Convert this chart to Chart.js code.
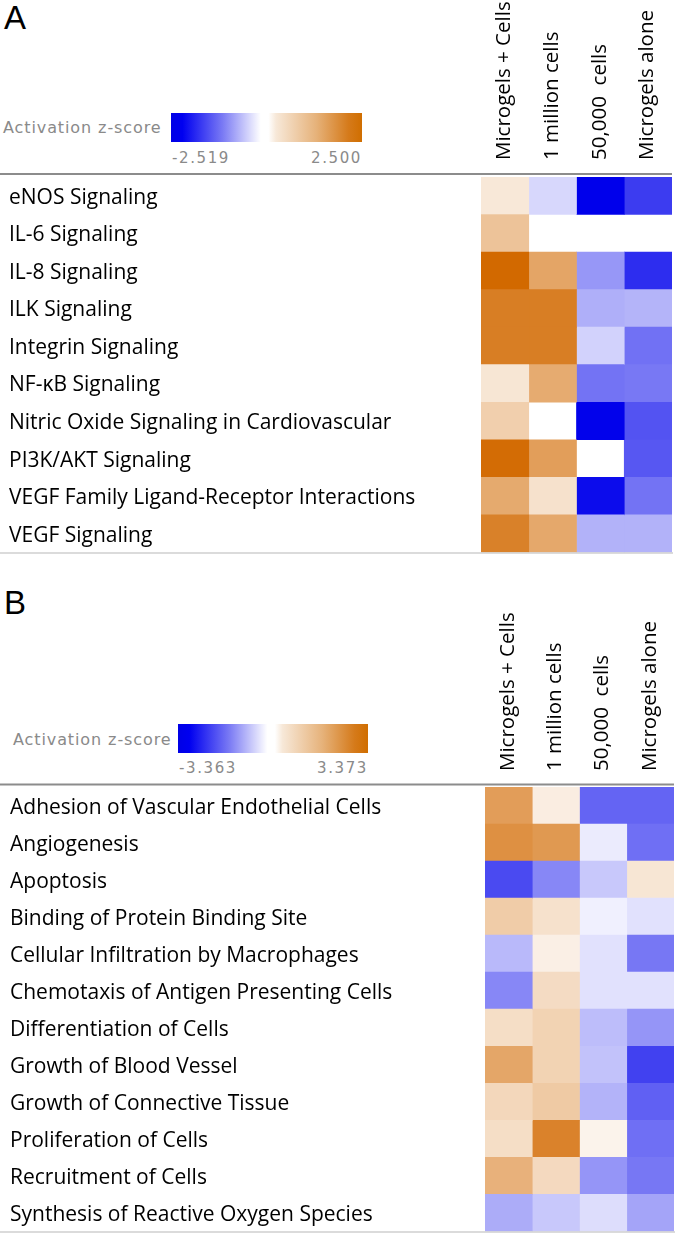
<!DOCTYPE html>
<html>
<head>
<meta charset="utf-8">
<script src="https://cdn.jsdelivr.net/npm/chart.js@4.4.1/dist/chart.umd.min.js"></script>
<style>
  body { margin: 0; width: 677px; height: 1244px; background: #fff; position: relative; overflow: hidden; }
  .letter { position: absolute; left: 4px; font: 33px "Liberation Sans", sans-serif; line-height: 33px; color: #000; }
  .ztitle { position: absolute; font: 16px "DejaVu Sans", sans-serif; letter-spacing: 0.9px; color: #8a8a8a; line-height: 18px; }
  .zbar { position: absolute; height: 29px;
    background: linear-gradient(to right, #0000e6 0%, #0000f0 6%, #7a7af4 27%, #ffffff 47%, #ffffff 51%, #f7e8d8 55%, #e6b27a 76%, #d57a1a 93%, #d06e00 100%); }
  .zlab { position: absolute; font: 15px "DejaVu Sans", sans-serif; letter-spacing: 1.6px; color: #8a8a8a; line-height: 18px; }
  canvas { position: absolute; left: 0; }
</style>
</head>
<body>

<div class="letter" style="top:1px">A</div>
<div class="ztitle" style="left:3px; top:119px">Activation z-score</div>
<div class="zbar" style="left:171px; top:113px; width:191px"></div>
<div class="zlab" style="left:172px; top:149px">-2.519</div>
<div class="zlab" style="left:300px; top:149px; width:62px; text-align:right">2.500</div>
<canvas id="chartA" width="677" height="565" style="top:0"></canvas>

<div class="letter" style="top:586px">B</div>
<div class="ztitle" style="left:13px; top:731px">Activation z-score</div>
<div class="zbar" style="left:178px; top:724px; width:190px"></div>
<div class="zlab" style="left:179px; top:759px">-3.363</div>
<div class="zlab" style="left:306px; top:759px; width:62px; text-align:right">3.373</div>
<canvas id="chartB" width="677" height="664" style="top:580px"></canvas>

<script>
const columns = ["Microgels + Cells", "1 million cells", "50,000  cells", "Microgels alone"];

// PANEL A - canonical pathways
const pathwaysA = [
  "eNOS Signaling",
  "IL-6 Signaling",
  "IL-8 Signaling",
  "ILK Signaling",
  "Integrin Signaling",
  "NF-κB Signaling",
  "Nitric Oxide Signaling in Cardiovascular",
  "PI3K/AKT Signaling",
  "VEGF Family Ligand-Receptor Interactions",
  "VEGF Signaling"
];
const zA_microgelsCells = [0.38, 1.0, 2.5, 2.15, 2.15, 0.42, 0.8, 2.45, 1.42, 2.1];
const zA_millionCells   = [-0.4, null, 1.5, 2.15, 2.15, 1.4, null, 1.62, 0.5, 1.45];
const zA_50kCells       = [-2.519, null, -1.03, -0.79, -0.44, -1.38, -2.5, null, -2.4, -0.76];
const zA_microgelsAlone = [-1.93, null, -2.07, -0.74, -1.4, -1.33, -1.7, -1.66, -1.38, -0.76];
const zA_min = -2.519, zA_max = 2.5;

// PANEL B - diseases and functions
const functionsB = [
  "Adhesion of Vascular Endothelial Cells",
  "Angiogenesis",
  "Apoptosis",
  "Binding of Protein Binding Site",
  "Cellular Infiltration by Macrophages",
  "Chemotaxis of Antigen Presenting Cells",
  "Differentiation of Cells",
  "Growth of Blood Vessel",
  "Growth of Connective Tissue",
  "Proliferation of Cells",
  "Recruitment of Cells",
  "Synthesis of Reactive Oxygen Species"
];
const zB_microgelsCells = [2.2, 2.5, -2.39, 1.15, -0.92, -1.58, 0.75, 2.0, 0.9, 0.75, 1.75, -1.1];
const zB_millionCells   = [0.4, 2.3, -1.58, 0.67, 0.35, 0.8, 1.0, 1.0, 1.2, 2.8, 0.85, -0.73];
const zB_50kCells       = [-2.05, -0.26, -0.73, -0.2, -0.4, -0.4, -0.87, -0.8, -1.0, 0.27, -1.4, -0.45];
const zB_microgelsAlone = [-2.05, -1.9, 0.57, -0.4, -1.8, -0.4, -1.4, -2.5, -2.1, -1.9, -1.8, -1.2];
const zB_min = -3.363, zB_max = 3.373;

function ZColor(z, zMin, zMax) {
  if (z === null) return "#ffffff";
  let t;
  if (z >= 0) {
    t = Math.min(z / zMax, 1);
    return `rgb(${255 - 45 * t}, ${255 - 150 * t}, ${255 - 255 * t})`;
  }
  t = Math.min(z / zMin, 1);
  return `rgb(${255 - 255 * t}, ${255 - 255 * t}, ${255 - 20 * t})`;
}

// rules above and below the grid
const rulesPlugin = {
  id: "rules",
  afterDraw(chart, args, opts) {
    const { ctx, chartArea } = chart;
    ctx.save();
    ctx.strokeStyle = "#8c8c8c";
    ctx.lineWidth = 2;
    ctx.beginPath();
    ctx.moveTo(0, chartArea.top - opts.topGap);
    ctx.lineTo(chartArea.right, chartArea.top - opts.topGap);
    ctx.stroke();
    ctx.strokeStyle = "#cfcfcf";
    ctx.lineWidth = 1.5;
    ctx.beginPath();
    ctx.moveTo(0, chartArea.bottom + 0.5);
    ctx.lineTo(chartArea.right + 1, chartArea.bottom + 0.5);
    ctx.stroke();
    ctx.restore();
  }
};

function Heatmap(canvasId, rows, series, zMin, zMax, layout) {
  const datasets = series.map((values, col) => ({
    data: values.map(v => (v === null ? null : [col, col + 1])),
    backgroundColor: ctx => ZColor(values[ctx.dataIndex], zMin, zMax),
    borderWidth: 0,
    barPercentage: 1,
    categoryPercentage: 1,
    grouped: false
  }));

  return new Chart(document.getElementById(canvasId), {
    type: "bar",
    data: { labels: rows, datasets },
    options: {
      indexAxis: "y",
      responsive: false,
      animation: false,
      events: [],
      layout: { padding: { left: layout.left, right: layout.right, top: 0, bottom: layout.bottom } },
      plugins: {
        legend: { display: false },
        tooltip: { enabled: false },
        rules: { topGap: layout.topGap }
      },
      scales: {
        x: { type: "linear", min: 0, max: 4, display: false },
        xTop: {
          type: "category",
          labels: columns,
          position: "top",
          offset: true,
          grid: { display: false, drawTicks: false },
          border: { display: false },
          ticks: {
            minRotation: 90, maxRotation: 90, autoSkip: false,
            padding: layout.headPad,
            labelOffset: 24,
            color: "#000",
            font: { family: "Open Sans", size: 20.5 }
          },
          afterFit: s => { s.height = layout.top; }
        },
        y: {
          type: "category",
          offset: true,
          grid: { display: false, drawTicks: false },
          border: { display: false },
          ticks: {
            crossAlign: "far",
            autoSkip: false,
            padding: 0,
            labelOffset: 2,
            color: "#000",
            font: { family: "Open Sans", size: 21 }
          },
          afterFit: s => { s.width = layout.gridLeft - layout.left; }
        }
      }
    },
    plugins: [rulesPlugin]
  });
}

document.fonts.load('21px "Open Sans"').then(() => {
  //PANEL A
  Heatmap("chartA", pathwaysA,
    [zA_microgelsCells, zA_millionCells, zA_50kCells, zA_microgelsAlone],
    zA_min, zA_max,
    { left: 9, gridLeft: 481, right: 5, bottom: 6, top: 177, topGap: 3, headPad: 17 });

  //PANEL B
  Heatmap("chartB", functionsB,
    [zB_microgelsCells, zB_millionCells, zB_50kCells, zB_microgelsAlone],
    zB_min, zB_max,
    { left: 10, gridLeft: 485, right: 3, bottom: 4, top: 207, topGap: 2.5, headPad: 16 });
});
</script>
</body>
</html>
